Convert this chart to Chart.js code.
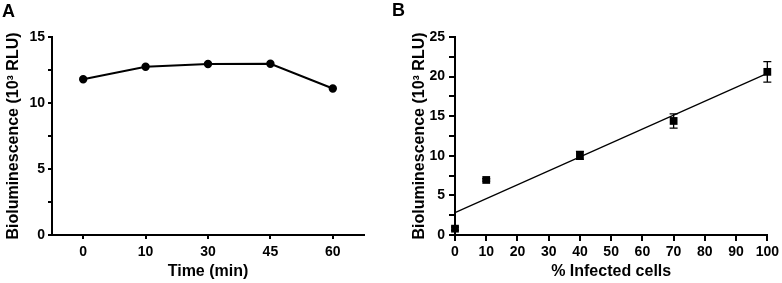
<!DOCTYPE html>
<html lang="en">
  <head>
    <meta charset="utf-8" />
    <title>Bioluminescence</title>
    <style>
      * { margin: 0; padding: 0; }
      body { width: 782px; height: 283px; background: #fff; position: relative; overflow: hidden; }
      .panel { position: absolute; top: 0; }
      .tag {
        position: absolute;
        font-family: "Liberation Sans", Arial, sans-serif;
        font-weight: bold;
        font-size: 18px;
        line-height: 18px;
        color: #000;
      }
    </style>
  </head>
  <body>
    <canvas class="panel" id="chartA" width="390" height="283" style="left:0"></canvas>
    <canvas class="panel" id="chartB" width="392" height="283" style="left:390px"></canvas>
    <div class="tag" style="left:2px; top:2px">A</div>
    <div class="tag" style="left:392px; top:1px">B</div>

    <script src="https://cdn.jsdelivr.net/npm/chart.js"></script>
    <script>
      // data block
      const timeLabels = ["0", "10", "30", "45", "60"];
      const signalA = [11.8, 12.75, 12.95, 12.97, 11.1];

      const infectedPct = [0, 10, 40, 70, 100];
      const signalB = [0.8, 6.95, 10.05, 14.4, 20.6];
      const errorB = [0.2, 0.15, 0.5, 0.9, 1.3];

      const yTitle = "Bioluminescence (10\u00b3 RLU)";
      const FONT = "'Liberation Sans', Arial, sans-serif";

      // least squares fit for panel B
      const n = infectedPct.length;
      const mx = infectedPct.reduce((a, b) => a + b, 0) / n;
      const my = signalB.reduce((a, b) => a + b, 0) / n;
      let sxy = 0, sxx = 0;
      infectedPct.forEach((x, i) => {
        sxy += (x - mx) * (signalB[i] - my);
        sxx += (x - mx) * (x - mx);
      });
      const slope = sxy / sxx;
      const intercept = my - slope * mx;
      const fitX = [0, 100];

      Chart.defaults.font.family = FONT;
      Chart.defaults.font.weight = "bold";
      Chart.defaults.color = "#000";

      const yAxis = (max, width, tickLen, tickPad, titlePad) => ({
        min: 0,
        max: max,
        afterFit(scale) { scale.width = width; },
        border: { display: true, color: "#000", width: 2 },
        grid: { drawOnChartArea: false, drawTicks: true, tickLength: tickLen, color: "#000", lineWidth: 2 },
        ticks: {
          stepSize: 2.5,
          padding: tickPad,
          autoSkip: false,
          font: { size: 14, weight: "bold" },
          callback: (v) => (v % 5 === 0 ? v : ""),
        },
        title: {
          display: true,
          text: yTitle,
          font: { size: 16, weight: "bold" },
          padding: { top: titlePad, bottom: 0 },
        },
      });

      const xTitle = (text) => ({
        display: true,
        text: text,
        font: { size: 16, weight: "bold" },
        padding: { top: 0, bottom: 2 },
      });

      // panel A
      new Chart(document.getElementById("chartA"), {
        type: "line",
        data: {
          labels: timeLabels,
          datasets: [{
            data: signalA,
            borderColor: "#000",
            backgroundColor: "#000",
            borderWidth: 2,
            pointRadius: 3.2,
            pointHoverRadius: 3.2,
            tension: 0,
          }],
        },
        options: {
          responsive: false,
          animation: false,
          layout: { padding: { top: 37, right: 26, left: 0, bottom: 0 } },
          plugins: { legend: { display: false }, tooltip: { enabled: false } },
          scales: {
            x: {
              type: "category",
              offset: true,
              afterFit(scale) { scale.height = 48; },
              border: { display: true, color: "#000", width: 2 },
              grid: { offset: false, drawOnChartArea: false, tickLength: 4, color: "#000", lineWidth: 2 },
              ticks: { padding: 5, font: { size: 14, weight: "bold" } },
              title: xTitle("Time (min)"),
            },
            y: yAxis(15, 52, 4, 3, 4),
          },
        },
      });

      // error bars plugin for panel B
      const errorBars = {
        id: "errorBars",
        afterDatasetsDraw(chart) {
          const { ctx, scales: { x, y } } = chart;
          ctx.save();
          ctx.strokeStyle = "#000";
          ctx.lineWidth = 1.3;
          infectedPct.forEach((v, i) => {
            const px = x.getPixelForValue(v);
            const top = y.getPixelForValue(signalB[i] + errorB[i]);
            const bot = y.getPixelForValue(signalB[i] - errorB[i]);
            ctx.beginPath();
            ctx.moveTo(px, top);
            ctx.lineTo(px, bot);
            ctx.moveTo(px - 4, top);
            ctx.lineTo(px + 4, top);
            ctx.moveTo(px - 4, bot);
            ctx.lineTo(px + 4, bot);
            ctx.stroke();
          });
          ctx.restore();
        },
      };

      // panel B
      new Chart(document.getElementById("chartB"), {
        type: "scatter",
        data: {
          datasets: [
            {
              type: "line",
              data: fitX.map((x) => ({ x: x, y: intercept + slope * x })),
              borderColor: "#000",
              borderWidth: 1.2,
              pointRadius: 0,
              clip: false,
              order: 2,
            },
            {
              data: infectedPct.map((x, i) => ({ x: x, y: signalB[i] })),
              pointStyle: "rect",
              pointRadius: 5.5,
              pointHoverRadius: 5.5,
              backgroundColor: "#000",
              borderColor: "#000",
              borderWidth: 0,
              clip: false,
              order: 1,
            },
          ],
        },
        options: {
          responsive: false,
          animation: false,
          layout: { padding: { top: 37, right: 13, left: 0, bottom: 0 } },
          plugins: { legend: { display: false }, tooltip: { enabled: false } },
          scales: {
            x: {
              type: "linear",
              min: 0,
              max: 100,
              afterFit(scale) { scale.height = 48; },
              border: { display: true, color: "#000", width: 2 },
              grid: { drawOnChartArea: false, tickLength: 6, color: "#000", lineWidth: 2 },
              ticks: { stepSize: 10, padding: 3, font: { size: 14, weight: "bold" } },
              title: xTitle("% Infected cells"),
            },
            y: yAxis(25, 65, 6, 4, 20),
          },
        },
        plugins: [errorBars],
      });
    </script>
  </body>
</html>
